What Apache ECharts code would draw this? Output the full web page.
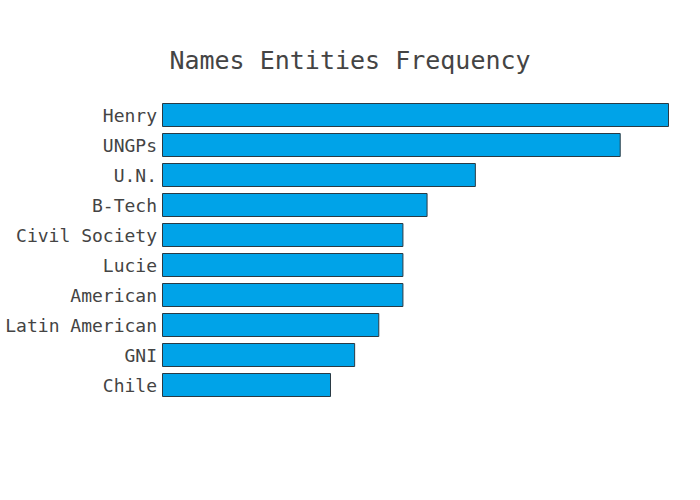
<!DOCTYPE html>
<html><head><meta charset="utf-8">
<script src="https://cdn.jsdelivr.net/npm/echarts@6/dist/echarts.min.js"></script>
<style>html,body{margin:0;padding:0;background:#fff}#c{width:700px;height:500px}</style>
</head><body><div id="c"></div>
<script>
const categories = ["Henry","UNGPs","U.N.","B-Tech","Civil Society","Lucie","American","Latin American","GNI","Chile"];
const counts = [21,19,13,11,10,10,10,9,8,7];
const xMax = 21;

const chart = echarts.init(document.getElementById('c'), null, {renderer:'svg'});
chart.setOption({
  animation:false,
  backgroundColor:'#fff',
  title:{text:'Names Entities Frequency', left:'center', top:43,
    textStyle:{fontFamily:'DejaVu Sans Mono', fontSize:25, fontWeight:'normal', color:'#444'}},
  grid:{left:162, right:31, top:100, height:300},
  xAxis:{type:'value', min:0, max:xMax, show:false},
  yAxis:{type:'category', data:categories, inverse:true,
    axisLine:{show:false}, axisTick:{show:false}, splitLine:{show:false},
    axisLabel:{fontFamily:'DejaVu Sans Mono', fontSize:18, color:'#444', margin:5}},
  series:[{type:'bar', data:counts, barCategoryGap:'20%',
    itemStyle:{color:'#00a3e8', borderColor:'#2a3a44', borderWidth:1}}]
});
</script></body></html>
